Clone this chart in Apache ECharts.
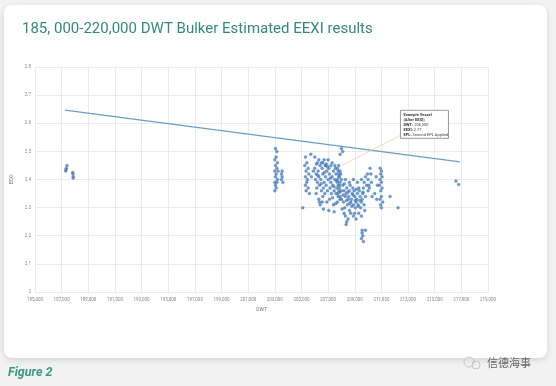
<!DOCTYPE html>
<html><head><meta charset="utf-8">
<script src="https://cdn.jsdelivr.net/npm/echarts@6/dist/echarts.min.js"></script>
<style>html,body{margin:0;padding:0;background:#f2f2f3;}#c{width:556px;height:386px;}</style>
</head><body><div id="c"></div>
<script>
const titleText = '185, 000-220,000 DWT Bulker Estimated EEXI results';
const figureText = 'Figure 2';
const xName = 'DWT';
const yName = 'EEXI';
const xMin = 185000, xMax = 219000, xStep = 2000;
const yMin = 2, yMax = 2.8, yStep = 0.1;

// Reference (trend) line
const refLine = [[187250, 2.647], [216900, 2.463]];

// Scatter: left cluster
const leftCluster = [[187300,2.43],[187350,2.44],[187400,2.45],[187330,2.435],[187850,2.42],[187870,2.41],[187830,2.425],[187860,2.405]];
// Scatter: right outliers
const rightOutliers = [[216600,2.395],[216800,2.382]];
// Scatter: main fleet
const groupA = [[203050,2.51],[203150,2.50],[203100,2.48],[203000,2.47],[203200,2.46],[203050,2.45],[203150,2.44],[203000,2.43],[203250,2.43],[203100,2.42],[203050,2.41],[203200,2.40],[203000,2.39],[203150,2.39],[203050,2.38],[203100,2.37],[203000,2.36],[203500,2.42],[203550,2.41],[203500,2.40],[203600,2.39],[203550,2.43]];
const groupB = [[205300,2.48],[205400,2.46],[205250,2.45],[205500,2.44],[205350,2.43],[205300,2.41],[205450,2.40],[205550,2.42],[205400,2.39],[205300,2.38],[205500,2.37],[205350,2.36],[205100,2.30],[205700,2.49],[206000,2.48],[206300,2.47],[206600,2.46],[206800,2.45],[205600,2.35],[206350,2.32],[206550,2.32]];
const groupC = [[206000,2.44],[206100,2.42],[206050,2.40],[206200,2.39],[206150,2.37],[206300,2.41],[206250,2.43],[206400,2.45],[206350,2.38],[206500,2.36],[206450,2.40],[206600,2.42],[206550,2.44],[206700,2.39],[206650,2.37],[206800,2.41],[206750,2.35],[206900,2.43],[206850,2.38],[207000,2.40],[206950,2.36],[207100,2.42],[207050,2.44],[207200,2.39],[207150,2.37],[207300,2.41],[207250,2.35],[207400,2.43],[207350,2.38],[207500,2.40],[207450,2.36],[207600,2.42],[207550,2.44],[207700,2.39],[207650,2.37],[207800,2.41],[207750,2.34],[207900,2.43],[207850,2.38],[208000,2.40],[206100,2.35],[206300,2.33],[206500,2.46],[206700,2.47],[206900,2.32],[207100,2.33],[207300,2.46],[207500,2.45],[207700,2.32],[207900,2.33],[206200,2.46],[206600,2.34],[207000,2.47],[207400,2.31],[207800,2.45],[206800,2.45],[207200,2.45],[207600,2.35],[208000,2.36],[206400,2.31],[208000,2.51],[208100,2.50],[207900,2.49],[207700,2.44],[207750,2.43],[207800,2.42],[207850,2.41],[207700,2.40],[207900,2.39],[207750,2.38],[207850,2.37],[207800,2.36],[207700,2.35],[207900,2.34],[208000,2.33],[207950,2.42]];
const groupD = [[208100,2.38],[208200,2.36],[208300,2.34],[208150,2.32],[208250,2.30],[208400,2.37],[208350,2.35],[208500,2.33],[208450,2.31],[208600,2.36],[208550,2.34],[208700,2.32],[208650,2.38],[208800,2.35],[208750,2.33],[208900,2.31],[208850,2.37],[209000,2.34],[208950,2.36],[209100,2.32],[209050,2.30],[209200,2.35],[209150,2.33],[209300,2.37],[209250,2.31],[209400,2.34],[209350,2.36],[209500,2.32],[209450,2.30],[209600,2.35],[209550,2.33],[209700,2.31],[209650,2.37],[209800,2.34],[209750,2.29],[208200,2.28],[208300,2.27],[208500,2.26],[208700,2.28],[208400,2.25],[208900,2.27],[209100,2.26],[208600,2.29],[208350,2.24],[209000,2.28],[209300,2.28],[209500,2.27],[208300,2.40],[208600,2.39],[208900,2.40],[209200,2.39],[209500,2.40],[209700,2.39],[209900,2.38],[209800,2.41],[210000,2.40],[210050,2.38],[210000,2.36],[209950,2.42]];
const groupE = [[210900,2.44],[211000,2.43],[210950,2.42],[211050,2.41],[210900,2.40],[211000,2.39],[210850,2.38],[211050,2.37],[210950,2.36],[211000,2.34],[210900,2.33],[211100,2.32],[210950,2.31],[211000,2.30],[210600,2.41],[210700,2.38],[210500,2.35],[210650,2.33],[210150,2.44],[210200,2.42],[210250,2.39],[210100,2.37],[210300,2.34],[211650,2.34],[212250,2.30]];
const groupF = [[206230,2.415],[206480,2.385],[206720,2.425],[206960,2.445],[207180,2.405],[207420,2.375],[207630,2.395],[207870,2.355],[208130,2.345],[208380,2.325],[208620,2.315],[208870,2.345],[209120,2.365],[209380,2.325],[209620,2.355],[206130,2.455],[206870,2.455],[207330,2.335],[207570,2.315],[208220,2.385],[208470,2.355],[208780,2.305],[209030,2.325],[209270,2.305],[206650,2.295],[207050,2.29],[207450,2.285],[208050,2.295],[205900,2.43],[205750,2.41]];
const lowPoints = [[209550,2.21],[209600,2.20],[209500,2.19],[209650,2.18],[209800,2.22],[209550,2.22]];

// Annotation
const annoPoint = [208050, 2.45];
const annoBoxAnchor = [212430, 2.646];
const annoLines = [
  ['Example Vessel', ''],
  ['(After EEXI)', ''],
  ['DWT:', ' 206,000'],
  ['EEXI:', ' 2.77'],
  ['EPL:', ' Second EPL Applied']
];

const allPoints = [].concat(leftCluster, groupA, groupB, groupC, groupD, groupE, groupF, lowPoints, rightOutliers);

const chart = echarts.init(document.getElementById('c'));
const font = 'Roboto, "Open Sans", sans-serif';
const option = {
  animation: false,
  backgroundColor: 'transparent',
  grid: {left: 35, right: 68, top: 67, bottom: 94},
  xAxis: {
    type: 'value', min: xMin, max: xMax, interval: xStep,
    name: xName, nameLocation: 'middle', nameGap: 13,
    nameTextStyle: {fontSize: 5, color: '#777', fontFamily: font},
    axisLine: {show: false}, axisTick: {show: false},
    axisLabel: {fontSize: 4.5, color: '#888', margin: 5, fontFamily: font,
      formatter: v => v.toLocaleString('en-US')},
    splitLine: {lineStyle: {color: '#ebebeb', width: 1}}
  },
  yAxis: {
    type: 'value', min: yMin, max: yMax, interval: yStep,
    name: yName, nameLocation: 'middle', nameGap: 12, nameRotate: 90,
    nameTextStyle: {fontSize: 5, color: '#777', fontFamily: font},
    axisLine: {show: false}, axisTick: {show: false},
    axisLabel: {fontSize: 4.5, color: '#888', margin: 4, fontFamily: font,
      formatter: v => (v === 2 ? '2' : v.toFixed(1))},
    splitLine: {lineStyle: {color: '#ebebeb', width: 1}}
  },
  series: [
    {type: 'line', data: refLine, symbol: 'none', lineStyle: {color: '#6a9ccd', width: 1.2}, z: 3},
    {type: 'scatter', data: allPoints, symbolSize: 3,
      itemStyle: {color: '#4a82c4', borderColor: '#3b6aa3', borderWidth: 0.3}, z: 4}
  ]
};
chart.setOption(option);

const pA = chart.convertToPixel({gridIndex: 0}, annoPoint);
const pB = chart.convertToPixel({gridIndex: 0}, annoBoxAnchor);
const boxW = 48, boxH = 28;
const textEls = annoLines.map((l, i) => ({
  type: 'text', left: pB[0] + 3, top: pB[1] + 3 + i * 5,
  style: {rich: {b: {fontWeight: 'bold', fontSize: 4, fill: '#333', fontFamily: font}, n: {fontSize: 4, fill: '#444', fontFamily: font}},
    text: '{b|' + l[0] + '}' + (l[1] ? '{n|' + l[1] + '}' : '')}, z: 20
}));
chart.setOption({
  graphic: [
    {type: 'rect', left: 4, top: 5, z: -10, shape: {width: 543, height: 353, r: 8},
      style: {fill: '#ffffff', shadowBlur: 6, shadowColor: 'rgba(0,0,0,0.12)', shadowOffsetY: 2}},
    {type: 'text', left: 22, top: 22, z: 10,
      style: {text: titleText, fontSize: 15, fill: '#358a7a', fontFamily: font}},
    {type: 'text', left: 8, top: 366, z: 10,
      style: {text: figureText, fontSize: 12.5, fontWeight: 'bold', fontStyle: 'italic', fill: '#3a9a7e', fontFamily: font}},
    {type: 'text', left: 487, top: 357, z: 10,
      style: {text: '信德海事', fontSize: 11, fill: '#666', fontFamily: '"Noto Sans CJK SC", sans-serif'}},
    {type: 'circle', shape: {cx: 469, cy: 362, r: 5}, z: 10, style: {fill: 'none', stroke: '#bbb', lineWidth: 0.8}},
    {type: 'circle', shape: {cx: 476, cy: 365, r: 4}, z: 10, style: {fill: 'none', stroke: '#bbb', lineWidth: 0.8}},
    {type: 'line', z: 15, shape: {x1: pA[0], y1: pA[1], x2: pB[0], y2: pB[1] + boxH - 3},
      style: {stroke: '#e9cfa8', lineWidth: 0.8}},
    {type: 'rect', z: 16, shape: {x: pB[0], y: pB[1], width: boxW, height: boxH},
      style: {fill: '#ffffff', stroke: '#555', lineWidth: 0.6}}
  ].concat(textEls)
});
</script></body></html>
